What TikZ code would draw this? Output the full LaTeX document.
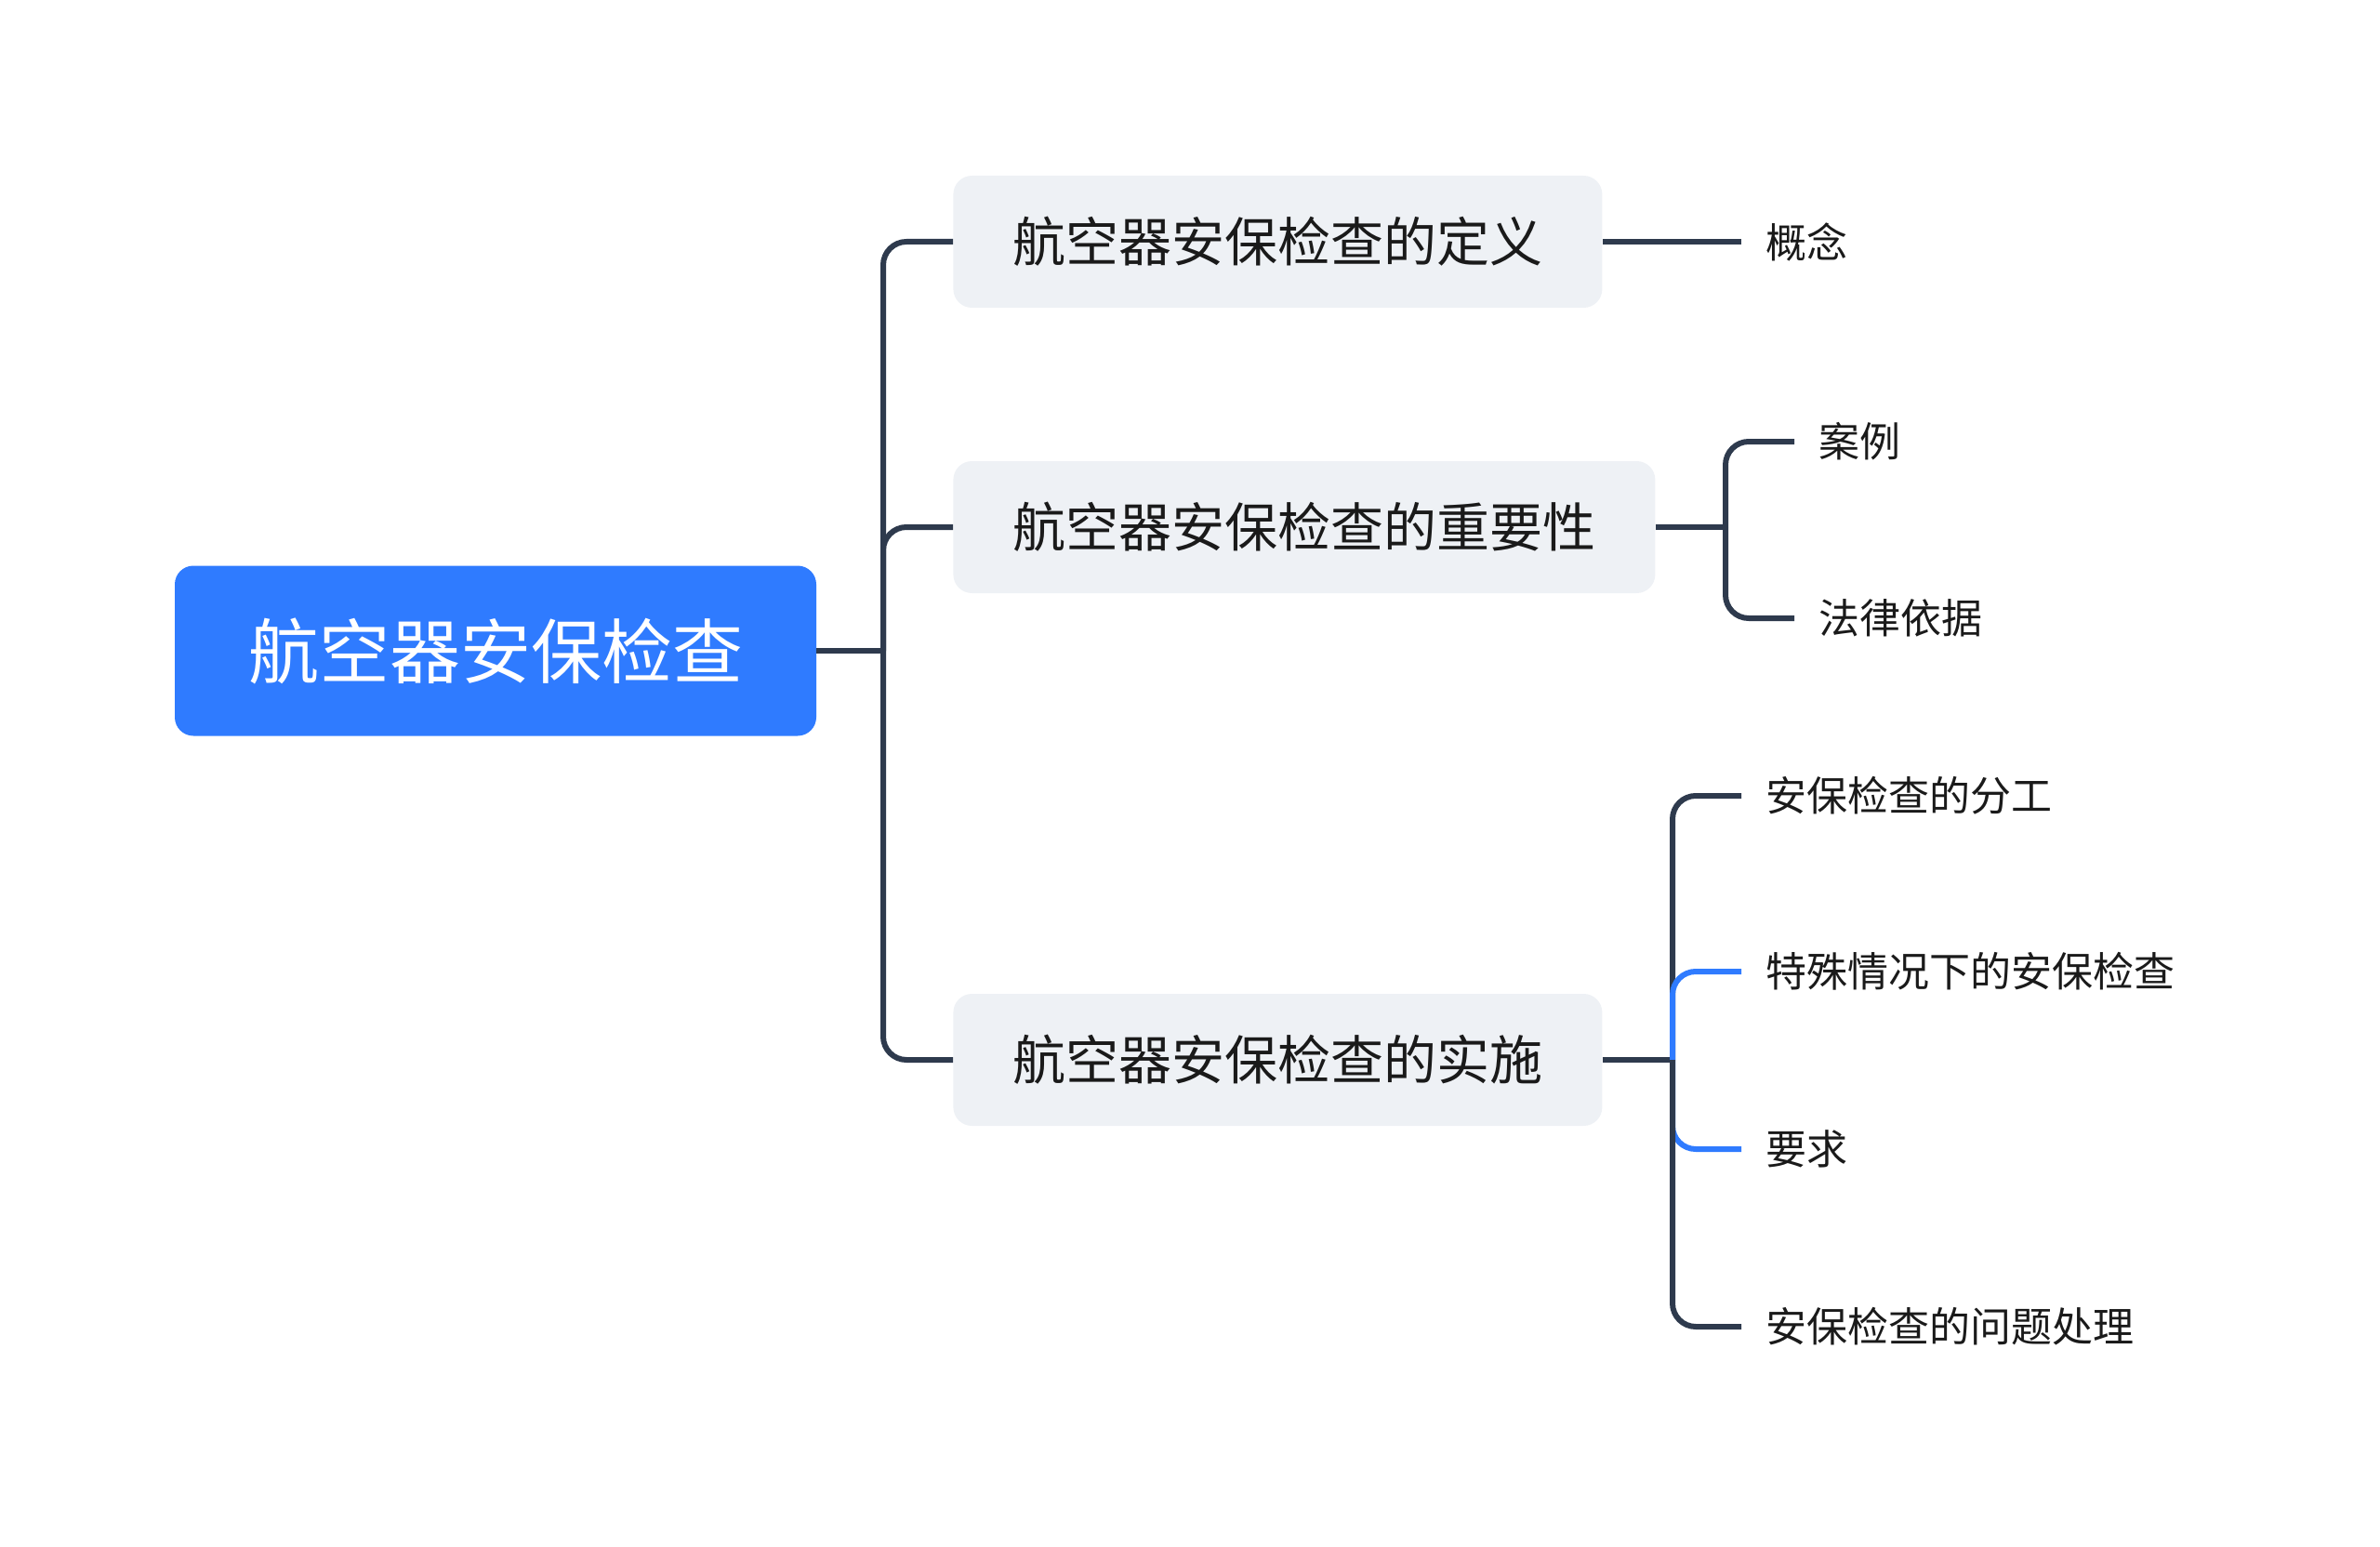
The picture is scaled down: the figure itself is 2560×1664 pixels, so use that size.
\documentclass[tikz,border=0pt]{standalone}
\usepackage{fontspec}
\newfontfamily\cjk{Noto Sans CJK SC}
\definecolor{rootblue}{HTML}{2F7BFF}
\definecolor{linedark}{HTML}{2E3A4D}
\definecolor{boxgray}{HTML}{EEF1F5}
\definecolor{txt}{HTML}{1A1A1A}
\begin{document}
\begin{tikzpicture}[x=0.5pt,y=-0.5pt,
  conn/.style={draw=linedark, line width=3pt},
  connblue/.style={draw=rootblue, line width=3pt},
  rnd/.style={rounded corners=12.5pt},
  rootbox/.style={fill=rootblue, rounded corners=10pt, text=white,
    font=\cjk\fontsize{38pt}{44pt}\selectfont, minimum width=345pt,
    minimum height=91.5pt, inner sep=0pt},
  topic/.style={fill=boxgray, rounded corners=10pt, text=txt,
    font=\cjk\fontsize{28.5pt}{34pt}\selectfont, inner xsep=32pt,
    inner ysep=0pt, minimum height=71pt, anchor=west},
  leaf/.style={text=txt, font=\cjk\fontsize{22pt}{26pt}\selectfont,
    anchor=west, inner xsep=13pt, inner ysep=0pt}]
\useasboundingbox (0,0) rectangle (2560,1664);

\node[rootbox] (root) at (533,700) {航空器安保检查};

\node[topic] (t1) at (1025,260) {航空器安保检查的定义};
\node[topic] (t2) at (1025,567) {航空器安保检查的重要性};
\node[topic] (t3) at (1025,1140) {航空器安保检查的实施};

\coordinate (j0) at (950,700);
\draw[conn] (root.east) -- (j0);
\draw[conn,rnd] (j0) |- (t1.west);
\draw[conn,rnd] (j0) |- (t2.west);
\draw[conn,rnd] (j0) |- (t3.west);

% definition
\node[leaf] (l11) at (1873,260) {概念};
\draw[conn] (t1.east) -- (l11.west);

% importance
\coordinate (j2) at (1856,567);
\node[leaf] (l21) at (1930,475) {案例};
\node[leaf] (l22) at (1930,665) {法律依据};
\draw[conn] (t2.east) -- (j2);
\draw[conn,rnd] (j2) |- (l21.west);
\draw[conn,rnd] (j2) |- (l22.west);

% implementation
\coordinate (j3) at (1799,1140);
\node[leaf] (l31) at (1873,856) {安保检查的分工};
\node[leaf] (l32) at (1873,1045) {特殊情况下的安保检查};
\node[leaf] (l33) at (1873,1236) {要求};
\node[leaf] (l34) at (1873,1427) {安保检查的问题处理};
\draw[conn] (t3.east) -- (j3);
\draw[conn,rnd] (j3) |- (l31.west);
\draw[connblue,rnd] (j3) |- (l32.west);
\draw[connblue,rnd] (j3) |- (l33.west);
\draw[conn,rnd] (j3) |- (l34.west);
\end{tikzpicture}
\end{document}
